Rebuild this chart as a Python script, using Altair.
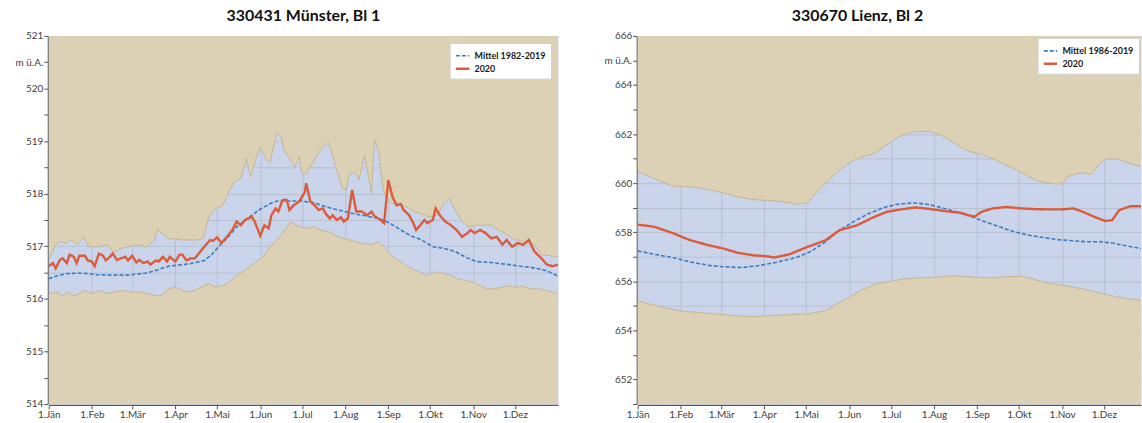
import json
import altair as alt
import pandas as pd

MONTH_DAYS = [0, 31, 60, 91, 121, 152, 182, 213, 244, 274, 305, 335]
MONTH_LABELS = ["1.Jän", "1.Feb", "1.Mär", "1.Apr", "1.Mai", "1.Jun", "1.Jul",
                "1.Aug", "1.Sep", "1.Okt", "1.Nov", "1.Dez"]

# ---------------- 330431 Münster, Bl 1 ----------------
L_MAX_DAYS = [0, 5, 8, 12, 16, 21, 25, 29, 36, 42, 47, 52, 63, 70, 76, 78, 81, 86, 96, 107,
              111, 115, 120, 125, 133, 138, 142, 145, 148, 152, 156, 159, 164, 167, 169, 174, 177, 180, 182, 185,
              190, 195, 201, 206, 211, 214, 216, 220, 223, 227, 229, 232, 234, 237, 240, 242, 247, 253, 263, 273,
              279, 284, 288, 292, 297, 302, 307, 318, 323, 328, 333, 341, 349, 354, 366]
L_MAX = [516.74, 517.03, 517.09, 517.06, 517.12, 517.03, 517.17, 516.99, 516.99, 517.03,
         516.88, 516.96, 517.03, 516.99, 517.12, 517.32, 517.25, 517.15, 517.12, 517.12,
         517.15, 517.56, 517.72, 517.78, 518.22, 518.29, 518.67, 518.32, 518.6, 518.89,
         518.67, 518.6, 519.17, 519.08, 518.82, 518.63, 518.51, 518.7, 518.38, 518.38,
         518.6, 518.82, 518.98, 518.54, 518.1, 518.07, 518.38, 518.41, 518.26, 518.73,
         518.44, 518.0, 519.04, 518.82, 518.13, 517.94, 517.81, 517.81, 517.66, 517.56,
         517.59, 517.81, 517.91, 517.69, 517.47, 517.37, 517.4, 517.4, 517.31, 517.25,
         517.15, 517.09, 517.03, 516.84, 516.8]

L_MIN_DAYS = [0, 5, 10, 14, 18, 22, 26, 31, 36, 42, 47, 52, 60, 65, 70, 77, 81, 86, 91, 96,
              102, 107, 115, 120, 125, 130, 135, 143, 148, 154, 159, 164, 169, 174, 180, 185, 190, 195, 201, 208,
              216, 224, 232, 237, 242, 247, 253, 258, 263, 268, 271, 276, 279, 284, 289, 294, 299, 305, 310, 315,
              320, 326, 331, 336, 341, 346, 352, 357, 366]
L_MIN = [516.1, 516.13, 516.06, 516.13, 516.06, 516.1, 516.16, 516.1, 516.16, 516.1,
         516.13, 516.16, 516.13, 516.13, 516.11, 516.06, 516.06, 516.19, 516.22, 516.16,
         516.13, 516.19, 516.29, 516.22, 516.25, 516.32, 516.44, 516.58, 516.68, 516.8,
         516.99, 517.12, 517.28, 517.47, 517.37, 517.34, 517.37, 517.31, 517.28, 517.18,
         517.12, 517.06, 517.03, 517.09, 516.96, 516.8, 516.71, 516.61, 516.55, 516.49,
         516.44, 516.48, 516.51, 516.48, 516.44, 516.38, 516.35, 516.32, 516.25, 516.19,
         516.19, 516.22, 516.25, 516.22, 516.24, 516.19, 516.19, 516.16, 516.1]

L_MEAN_DAYS = [0, 5, 13, 21, 29, 34, 44, 57, 70, 78, 86, 96, 104, 112, 117, 122, 128, 135, 143, 151,
               159, 164, 172, 182, 190, 198, 208, 219, 229, 237, 245, 253, 260, 268, 276, 284, 292, 299, 307, 318,
               331, 339, 346, 354, 359, 366]
L_MEAN = [516.38, 516.43, 516.48, 516.49, 516.48, 516.46, 516.45, 516.45, 516.49, 516.55,
          516.62, 516.65, 516.68, 516.73, 516.84, 516.99, 517.15, 517.37, 517.53, 517.69,
          517.81, 517.86, 517.86, 517.86, 517.83, 517.76, 517.69, 517.62, 517.57, 517.53,
          517.44, 517.31, 517.2, 517.12, 516.99, 516.96, 516.9, 516.8, 516.71, 516.69,
          516.65, 516.62, 516.6, 516.56, 516.52, 516.43]

L_2020_DAYS = [0, 3, 5, 8, 10, 13, 15, 18, 20, 22, 26, 28, 31, 33, 36, 39, 41, 44, 46, 49,
               52, 55, 57, 60, 63, 65, 68, 71, 73, 77, 79, 82, 85, 87, 91, 94, 96, 99, 102, 105,
               109, 113, 116, 118, 121, 124, 128, 132, 135, 138, 141, 146, 148, 152, 155, 158, 160, 163, 165, 168,
               171, 173, 176, 180, 184, 185, 188, 191, 194, 197, 199, 202, 204, 207, 210, 212, 215, 218, 221, 225,
               229, 232, 234, 238, 241, 244, 247, 250, 253, 255, 259, 262, 264, 267, 270, 272, 276, 278, 281, 285,
               289, 293, 297, 301, 303, 306, 310, 314, 318, 322, 326, 329, 333, 337, 341, 345, 349, 354, 358, 362,
               366]
L_2020 = [516.62, 516.68, 516.58, 516.74, 516.77, 516.68, 516.84, 516.8, 516.68, 516.82,
          516.82, 516.73, 516.71, 516.62, 516.86, 516.82, 516.73, 516.8, 516.86, 516.74,
          516.77, 516.8, 516.73, 516.82, 516.69, 516.74, 516.68, 516.71, 516.65, 516.73,
          516.71, 516.8, 516.71, 516.8, 516.71, 516.84, 516.84, 516.73, 516.77, 516.77,
          516.9, 517.03, 517.12, 517.1, 517.17, 517.06, 517.18, 517.31, 517.47, 517.4,
          517.5, 517.56, 517.47, 517.2, 517.4, 517.34, 517.59, 517.72, 517.66, 517.88,
          517.88, 517.69, 517.78, 517.85, 518.03, 518.2, 517.85, 517.78, 517.69, 517.72,
          517.62, 517.53, 517.59, 517.5, 517.55, 517.47, 517.53, 518.07, 517.66, 517.66,
          517.59, 517.66, 517.57, 517.51, 517.44, 518.26, 517.94, 517.78, 517.8, 517.69,
          517.59, 517.44, 517.31, 517.4, 517.5, 517.44, 517.5, 517.72, 517.59, 517.47,
          517.4, 517.31, 517.18, 517.25, 517.31, 517.25, 517.31, 517.25, 517.15, 517.18,
          517.03, 517.12, 516.99, 517.06, 517.03, 517.12, 516.9, 516.77, 516.65, 516.62,
          516.65]

# ---------------- 330670 Lienz, Bl 2 ----------------
R_MAX_DAYS = [0, 9, 25, 38, 51, 62, 72, 83, 98, 109, 115, 122, 130, 137, 145, 153, 161, 169, 177, 184,
              192, 200, 211, 218, 226, 234, 239, 247, 255, 265, 273, 281, 286, 294, 302, 305, 310, 318, 323, 326,
              331, 336, 341, 346, 354, 362, 366]
R_MAX = [660.5, 660.26, 659.88, 659.85, 659.74, 659.6, 659.44, 659.33, 659.28, 659.2,
         659.14, 659.2, 659.71, 660.12, 660.53, 660.87, 661.07, 661.18, 661.48, 661.76,
         662.0, 662.1, 662.1, 661.96, 661.69, 661.41, 661.28, 661.18, 661.0, 660.73,
         660.53, 660.26, 660.12, 660.01, 659.96, 659.99, 660.29, 660.42, 660.39, 660.37,
         660.73, 660.97, 661.0, 660.97, 660.8, 660.67, 660.6]

R_MIN_DAYS = [0, 9, 20, 30, 43, 56, 70, 83, 96, 109, 122, 135, 143, 151, 161, 171, 182, 192, 203, 213,
              224, 234, 245, 255, 265, 276, 284, 292, 302, 313, 323, 333, 344, 354, 362, 366]
R_MIN = [655.21, 655.07, 654.91, 654.8, 654.73, 654.67, 654.6, 654.56, 654.6, 654.64,
         654.67, 654.8, 655.07, 655.32, 655.65, 655.89, 656.0, 656.1, 656.14, 656.16,
         656.22, 656.2, 656.16, 656.14, 656.19, 656.2, 656.1, 655.96, 655.86, 655.76,
         655.65, 655.51, 655.37, 655.28, 655.21, 655.15]

R_MEAN_DAYS = [0, 12, 25, 38, 51, 62, 75, 88, 101, 114, 124, 135, 145, 156, 166, 177, 187, 198, 208, 218,
               229, 239, 250, 260, 271, 281, 292, 302, 313, 323, 333, 341, 349, 362, 366]
R_MEAN = [657.24, 657.1, 656.97, 656.79, 656.65, 656.59, 656.56, 656.65, 656.79, 656.97,
          657.2, 657.61, 658.08, 658.46, 658.76, 659.01, 659.14, 659.2, 659.14, 659.01,
          658.83, 658.65, 658.42, 658.22, 658.01, 657.88, 657.78, 657.7, 657.65, 657.61,
          657.61, 657.56, 657.47, 657.33, 657.3]

R_2020_DAYS = [0, 12, 25, 38, 51, 62, 72, 83, 93, 98, 109, 122, 135, 145, 158, 169, 179, 190, 200, 211,
               221, 232, 242, 247, 255, 265, 276, 286, 297, 305, 313, 320, 328, 336, 341, 346, 354, 362, 366]
R_2020 = [658.31, 658.22, 657.97, 657.67, 657.47, 657.33, 657.16, 657.06, 657.02, 656.97,
          657.1, 657.4, 657.67, 658.08, 658.29, 658.6, 658.83, 658.94, 659.01, 658.94,
          658.86, 658.79, 658.63, 658.83, 658.97, 659.03, 658.97, 658.94, 658.93, 658.93,
          658.97, 658.83, 658.63, 658.46, 658.49, 658.9, 659.06, 659.06, 659.06]

BEIGE = "#DDD1B5"
BAND = "#CAD4EB"
EDGE = "#C4B590"
RED = "#DB5B3B"
BLUE = "#3B7DC2"
FONT = "Lato"

X_EXPR = "{}[indexof({}, datum.value)]".format(json.dumps(MONTH_LABELS, ensure_ascii=False),
                                                 json.dumps(MONTH_DAYS))


def panel(title, ymin, ymax, step, major, unit_at, mean_label,
          max_d, max_v, min_d, min_v, mean_d, mean_v, red_d, red_v,
          width, xmax, title_dx, legend_offset):
    n = int(round((ymax - ymin) / step))
    yticks = [ymin + step * i for i in range(n + 1)]
    y_expr = ("datum.value == {u} ? 'm ü.A.' : "
              "(abs(datum.value % {m}) < 0.001 ? format(datum.value, 'd') : '')").format(u=unit_at, m=major)
    x = alt.X("day:Q", scale=alt.Scale(domain=[0, xmax], nice=False, zero=False),
              axis=alt.Axis(title=None, values=MONTH_DAYS, labelExpr=X_EXPR, labelFlush=False,
                            labelOverlap=False, grid=True, offset=1))
    y = alt.Y("value:Q", scale=alt.Scale(domain=[ymin, ymax], nice=False, zero=False),
              axis=alt.Axis(title=None, values=yticks, labelExpr=y_expr, labelFlush=False,
                            labelOverlap=False, grid=True, offset=1))
    dmax = pd.DataFrame({"day": max_d, "value": max_v})
    dmin = pd.DataFrame({"day": min_d, "value": min_v})
    top = alt.Chart(dmax).mark_area(color=BEIGE, clip=True).encode(x=x, y=y, y2=alt.datum(ymax))
    bot = alt.Chart(dmin).mark_area(color=BEIGE, clip=True).encode(x=x, y=y, y2=alt.datum(ymin))
    etop = alt.Chart(dmax).mark_line(color=EDGE, strokeWidth=1, clip=True).encode(x=x, y=y)
    ebot = alt.Chart(dmin).mark_line(color=EDGE, strokeWidth=1, clip=True).encode(x=x, y=y)
    lines = pd.concat([
        pd.DataFrame({"day": mean_d, "value": mean_v, "series": mean_label}),
        pd.DataFrame({"day": red_d, "value": red_v, "series": "2020"}),
    ])
    dom = [mean_label, "2020"]
    leg = alt.Legend(title=None, orient="top-right", offset=legend_offset, fillColor="white",
                     strokeColor="#D0D0D0", padding=5, labelFont=FONT, labelFontSize=9,
                     labelFontWeight="bold", labelColor="#1a1a1a", symbolType="stroke",
                     symbolSize=180, symbolStrokeWidth=2, rowPadding=0, labelLimit=200)
    ln = alt.Chart(lines).mark_line(clip=True).encode(
        x=x, y=y,
        color=alt.Color("series:N", scale=alt.Scale(domain=dom, range=[BLUE, RED]), legend=leg),
        strokeDash=alt.StrokeDash("series:N", scale=alt.Scale(domain=dom, range=[[4, 2], [1, 0]]), legend=leg),
        strokeWidth=alt.StrokeWidth("series:N", scale=alt.Scale(domain=dom, range=[1.6, 2.4]), legend=None),
    )
    return alt.layer(top, bot, etop, ebot, ln).properties(
        width=width, height=370,
        title=alt.TitleParams(text=title, fontSize=16, font=FONT, fontWeight="bold", color="#111111",
                              anchor="middle", dx=title_dx, offset=7),
    )


left = panel("330431 Münster, Bl 1", 514, 521, 0.5, 1, 520.5, "Mittel 1982-2019",
             L_MAX_DAYS, L_MAX, L_MIN_DAYS, L_MIN, L_MEAN_DAYS, L_MEAN, L_2020_DAYS, L_2020,
             512, 366, 0, 7)
right = panel("330670 Lienz, Bl 2", 651, 666, 1, 2, 665, "Mittel 1986-2019",
              R_MAX_DAYS, R_MAX, R_MIN_DAYS, R_MIN, R_MEAN_DAYS, R_MEAN, R_2020_DAYS, R_2020,
              506, 361.7, -32, 2)

chart = alt.hconcat(left, right, spacing=37).resolve_scale(
    x="independent", y="independent", color="independent",
    strokeDash="independent", strokeWidth="independent"
).properties(
    padding={"left": 7, "top": 6, "right": 0, "bottom": 1},
    background="white",
).configure_view(
    fill=BAND, stroke="transparent"
).configure_axis(
    labelFont=FONT, labelFontSize=10, labelColor="#404040", domainColor="#555555",
    tickColor="#555555", tickSize=4, labelPadding=1, gridColor="#A9ADB8", gridOpacity=0.5, gridWidth=1
).configure_axisY(
    minExtent=40, maxExtent=40
).configure_axisX(
    minExtent=17, maxExtent=17
)

chart.save("out.html", embed_options={"renderer": "svg", "actions": False})
